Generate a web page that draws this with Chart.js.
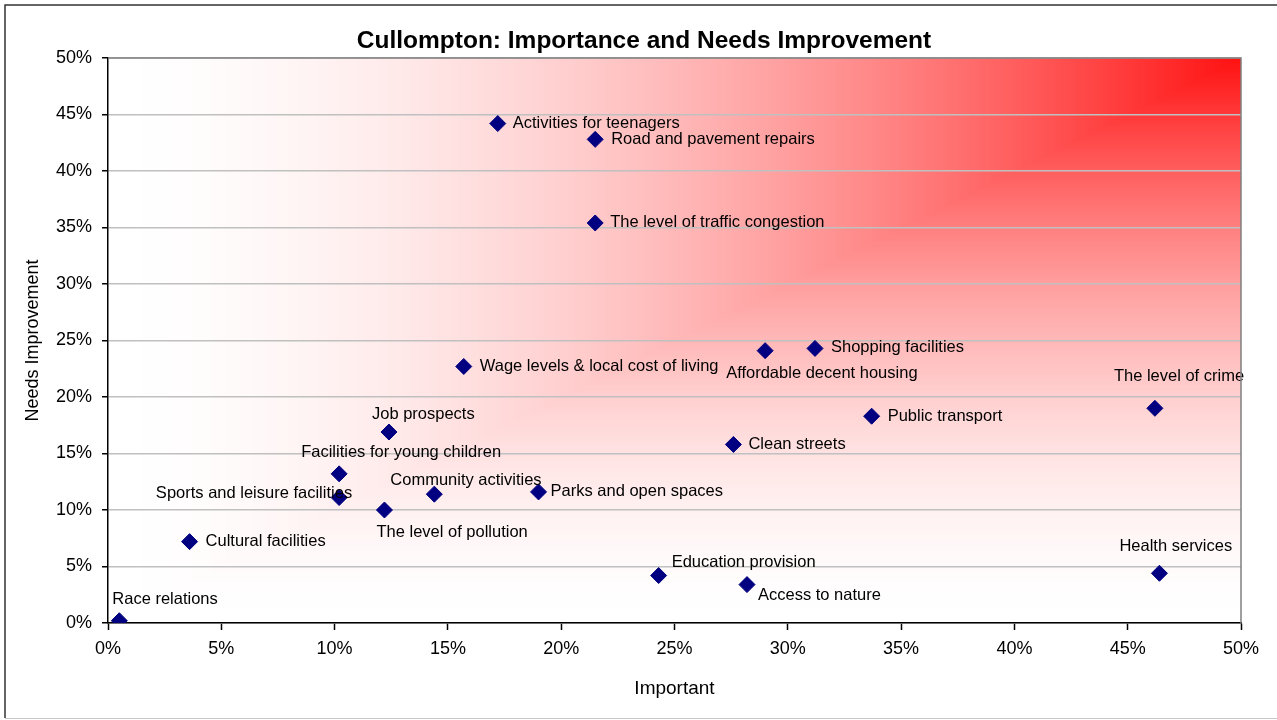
<!DOCTYPE html>
<html>
<head>
<meta charset="utf-8">
<script src="https://cdn.jsdelivr.net/npm/chart.js@4/dist/chart.umd.min.js"></script>
<style>
  html, body { margin: 0; padding: 0; background: #fff; }
  #wrap { position: absolute; left: 0; top: 0; width: 1277px; height: 720px; }
</style>
</head>
<body>
<div id="wrap"><canvas id="c" width="1277" height="720"></canvas></div>
<script>
// ---- Data (percent) ----
const chartTitle = 'Cullompton: Importance and Needs Improvement';
const xAxisTitle = 'Important';
const yAxisTitle = 'Needs Improvement';
const categories = [
  'Race relations', 'Cultural facilities', 'Sports and leisure facilities',
  'Facilities for young children', 'Job prospects', 'The level of pollution',
  'Community activities', 'Wage levels & local cost of living', 'Activities for teenagers',
  'Parks and open spaces', 'Road and pavement repairs', 'The level of traffic congestion',
  'Education provision', 'Clean streets', 'Access to nature', 'Affordable decent housing',
  'Shopping facilities', 'Public transport', 'The level of crime', 'Health services'
];
const importantValues = [0.5, 3.6, 10.2, 10.2, 12.4, 12.2, 14.4, 15.7, 17.2, 19.0, 21.5, 21.5, 24.3, 27.6, 28.2, 29.0, 31.2, 33.7, 46.2, 46.4];
const needsImprovementValues = [0.2, 7.2, 11.1, 13.2, 16.9, 10.0, 11.4, 22.7, 44.2, 11.6, 42.8, 35.4, 4.2, 15.8, 3.4, 24.1, 24.3, 18.3, 19.0, 4.4];
const tickValues = [0, 5, 10, 15, 20, 25, 30, 35, 40, 45, 50];

// ---- Label placement (pixel offsets from each marker; style only) ----
const labelPlacement = [
  { dx: -7,  dy: -21, align: 'left' },   // Race relations
  { dx: 16,  dy: 0,   align: 'left' },   // Cultural facilities
  { dx: 13,  dy: -4,  align: 'right' },  // Sports and leisure
  { dx: 62,  dy: -21, align: 'center' }, // Facilities for young children
  { dx: -17, dy: -18, align: 'left' },   // Job prospects
  { dx: -8,  dy: 22,  align: 'left' },   // Pollution
  { dx: -44, dy: -14, align: 'left' },   // Community activities
  { dx: 16,  dy: 0,   align: 'left' },   // Wage levels
  { dx: 15,  dy: 0,   align: 'left' },   // Activities for teenagers
  { dx: 12,  dy: 0,   align: 'left' },   // Parks
  { dx: 16,  dy: 0,   align: 'left' },   // Road
  { dx: 15,  dy: -1,  align: 'left' },   // Traffic
  { dx: 13,  dy: -13, align: 'left' },   // Education
  { dx: 15,  dy: 0,   align: 'left' },   // Clean streets
  { dx: 11,  dy: 11,  align: 'left' },   // Access to nature
  { dx: -39, dy: 23,  align: 'left' },   // Affordable housing
  { dx: 16,  dy: -1,  align: 'left' },   // Shopping
  { dx: 16,  dy: 0,   align: 'left' },   // Public transport
  { dx: -41, dy: -32, align: 'left' },   // Crime
  { dx: -40, dy: -27, align: 'left' }    // Health services
];

const FONT = '"Liberation Sans", Arial, Helvetica, sans-serif';

const points = importantValues.map((x, i) => ({ x: x, y: needsImprovementValues[i] }));

const bgPlugin = {
  id: 'cornerGradient',
  beforeDraw(chart) {
    const ctx = chart.ctx;
    const a = chart.chartArea;
    const L = Math.round(a.left), T = Math.round(a.top), R = Math.round(a.right), B = Math.round(a.bottom);
    const w = R - L, h = B - T;
    const img = ctx.createImageData(w, h);
    const d = img.data;
    for (let j = 0; j < h; j++) {
      const yf = (h - j) / h;
      for (let i = 0; i < w; i++) {
        const xf = (i + 0.5) / w;
        const t = Math.max(1 - xf, 1 - yf);
        const r = Math.pow(Math.max(0, 1 - t), 1.75);
        const gb = Math.round(255 - r * 238);
        const k = (j * w + i) * 4;
        d[k] = 255; d[k + 1] = gb; d[k + 2] = gb; d[k + 3] = 255;
      }
    }
    ctx.putImageData(img, L, T);
  }
};

const decoPlugin = {
  id: 'deco',
  afterDatasetsDraw(chart) {
    const ctx = chart.ctx;
    const meta = chart.getDatasetMeta(0);
    ctx.save();
    ctx.font = '16.5px ' + FONT;
    ctx.fillStyle = '#000';
    ctx.textBaseline = 'middle';
    meta.data.forEach((el, i) => {
      const p = labelPlacement[i];
      ctx.textAlign = p.align;
      ctx.fillText(categories[i], el.x + p.dx, el.y + p.dy);
    });
    ctx.restore();
  },
  afterDraw(chart) {
    const ctx = chart.ctx;
    const a = chart.chartArea;
    ctx.save();
    // plot top/right border
    ctx.strokeStyle = '#808080';
    ctx.lineWidth = 1.5;
    ctx.beginPath();
    ctx.moveTo(a.left, a.top);
    ctx.lineTo(a.right, a.top);
    ctx.lineTo(a.right, a.bottom);
    ctx.stroke();
    // title
    ctx.font = 'bold 24.5px ' + FONT;
    ctx.fillStyle = '#000';
    ctx.textAlign = 'center';
    ctx.textBaseline = 'middle';
    ctx.fillText(chartTitle, 644, 41);
    // outer frame
    ctx.strokeStyle = '#333';
    ctx.lineWidth = 1.5;
    ctx.beginPath();
    ctx.moveTo(5, 718);
    ctx.lineTo(5, 5);
    ctx.lineTo(1277, 5);
    ctx.stroke();
    ctx.strokeStyle = '#c8c8c8';
    ctx.lineWidth = 1;
    ctx.beginPath();
    ctx.moveTo(5, 718.5);
    ctx.lineTo(1277, 718.5);
    ctx.stroke();
    ctx.restore();
  }
};

new Chart(document.getElementById('c'), {
  type: 'scatter',
  data: {
    datasets: [{
      label: yAxisTitle,
      data: points,
      pointStyle: 'rectRot',
      pointRadius: 8,
      pointHoverRadius: 8,
      backgroundColor: '#000080',
      borderColor: '#000080',
      borderWidth: 1
    }]
  },
  options: {
    responsive: false,
    animation: false,
    events: [],
    layout: { padding: { top: 58, right: 36, bottom: 0, left: 0 } },
    plugins: {
      legend: { display: false },
      tooltip: { enabled: false },
      title: { display: false }
    },
    scales: {
      x: {
        type: 'linear',
        min: 0, max: 50,
        afterBuildTicks(scale) { scale.ticks = tickValues.map(v => ({ value: v })); },
        afterFit(scale) { scale.height = 97; },
        ticks: {
          callback: v => v + '%',
          color: '#000',
          font: { family: FONT, size: 18 },
          padding: 8,
          maxRotation: 0
        },
        grid: { drawOnChartArea: false, drawTicks: true, tickLength: 7, tickColor: '#000', tickWidth: 1.5 },
        border: { display: true, color: '#000', width: 1.5 },
        title: { display: true, text: xAxisTitle, color: '#000', font: { family: FONT, size: 19 }, padding: { top: 0, bottom: 20 } }
      },
      y: {
        type: 'linear',
        min: 0, max: 50,
        afterBuildTicks(scale) { scale.ticks = tickValues.map(v => ({ value: v })); },
        afterFit(scale) { scale.width = 108; },
        ticks: {
          callback: v => v + '%',
          color: '#000',
          font: { family: FONT, size: 18 },
          padding: 10
        },
        grid: { drawOnChartArea: true, color: '#c0c0c0', lineWidth: 1.5, drawTicks: true, tickLength: 6, tickColor: '#000', tickWidth: 1.5 },
        border: { display: true, color: '#000', width: 1.5 },
        title: { display: true, text: yAxisTitle, color: '#000', font: { family: FONT, size: 18 }, padding: { top: 22, bottom: 0 } }
      }
    }
  },
  plugins: [bgPlugin, decoPlugin]
});
</script>
</body>
</html>
